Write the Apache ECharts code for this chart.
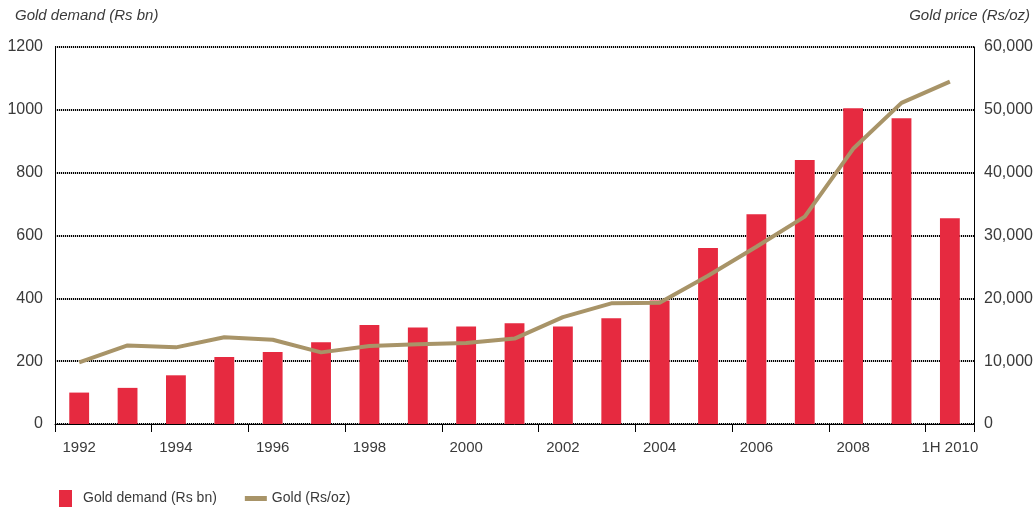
<!DOCTYPE html>
<html><head><meta charset="utf-8">
<script src="https://cdn.jsdelivr.net/npm/echarts@6/dist/echarts.min.js"></script>
<style>html,body{margin:0;padding:0;background:#fff}#c{width:1036px;height:508px}</style>
</head><body><div id="c"></div>
<script>
const categories = ['1992','1993','1994','1995','1996','1997','1998','1999','2000','2001','2002','2003','2004','2005','2006','2007','2008','2009','1H 2010'];
const goldDemand = [100,115,155,213,229,260,315,307,310,321,310,337,393,560,668,840,1005,973,655];
const goldPrice = [9800,12500,12200,13800,13400,11400,12400,12700,12900,13600,17000,19200,19300,23600,28200,33000,43800,51100,54500];
const leftTicks = [0,200,400,600,800,1000,1200];
const rightTicks = [0,10000,20000,30000,40000,50000,60000];

const font = '"Liberation Sans Narrow","Liberation Sans",Arial,sans-serif';
const txt = '#3a3a3a';
const chart = echarts.init(document.getElementById('c'));
const gridLine = {show:true, lineStyle:{color:'#000', type:[1.2,0.8], width:2.2}};
chart.setOption({
  animation:false,
  grid:{left:55,right:55,top:47,bottom:84,containLabel:false},
  legend:{
    left:51, top:485, itemGap:28, itemWidth:22, itemHeight:17,
    textStyle:{fontFamily:font, fontSize:14, color:txt},
    data:[
      {name:'Gold demand (Rs bn)', icon:'path://M3,0 H16 V17 H3 Z M0,0 M22,17'},
      {name:'Gold (Rs/oz)', icon:'path://M0,6 H22 V11 H0 Z M0,0 M22,17'}
    ]
  },
  graphic:[
    {type:'text', left:15, top:8, style:{text:'Gold demand (Rs bn)', font:'italic 15px '+font, fill:txt}},
    {type:'text', right:6, top:8, style:{text:'Gold price (Rs/oz)', font:'italic 15px '+font, fill:txt}}
  ],
  xAxis:{
    type:'category', data:categories,
    axisLine:{lineStyle:{color:'#000', width:1}},
    axisTick:{show:true, inside:false, length:8, alignWithLabel:false, lineStyle:{color:'#000'}},
    axisLabel:{interval:1, fontFamily:font, fontSize:15, color:txt, margin:16}
  },
  yAxis:[
    {type:'value', min:leftTicks[0], max:leftTicks[leftTicks.length-1], interval:200,
     axisLine:{show:true, lineStyle:{color:'#000'}}, axisTick:{show:false},
     axisLabel:{fontFamily:font, fontSize:16, color:txt, margin:12, formatter:v=>String(v)},
     splitLine:gridLine},
    {type:'value', min:rightTicks[0], max:rightTicks[rightTicks.length-1], interval:10000,
     position:'right',
     axisLine:{show:true, lineStyle:{color:'#000'}}, axisTick:{show:false},
     axisLabel:{fontFamily:font, fontSize:16, color:txt, margin:10,
       formatter:v=>v.toLocaleString('en-US')},
     splitLine:{show:false}}
  ],
  series:[
    {name:'Gold demand (Rs bn)', type:'bar', data:goldDemand, barWidth:'41%',
     itemStyle:{color:'#E62A40'}, z:2},
    {name:'Gold (Rs/oz)', type:'line', yAxisIndex:1, data:goldPrice, symbol:'none',
     lineStyle:{color:'#A89468', width:4}, itemStyle:{color:'#A89468'}, z:3}
  ]
});
</script></body></html>
